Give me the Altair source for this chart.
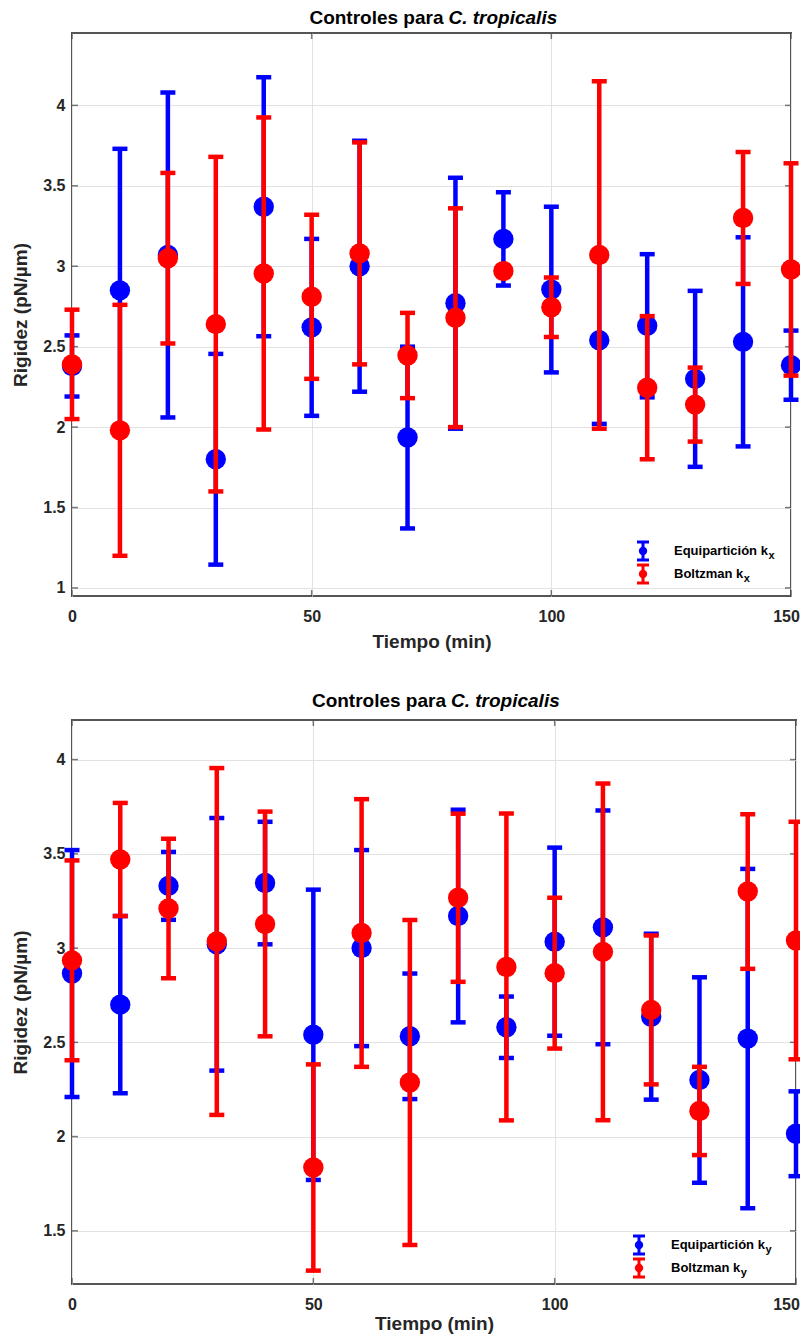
import altair as alt
import pandas as pd

# ---------------- data ----------------
minutes = [0, 10, 20, 30, 40, 50, 60, 70, 80, 90, 100, 110, 120, 130, 140, 150]

kx_equip = [2.38, 2.85, 3.07, 1.80, 3.37, 2.62, 3.00, 1.935, 2.77, 3.17, 2.855, 2.54, 2.63, 2.30, 2.53, 2.385]
kx_equip_err = [0.19, 0.88, 1.01, 0.655, 0.805, 0.55, 0.78, 0.565, 0.78, 0.29, 0.515, 0.52, 0.445, 0.547, 0.65, 0.215]
kx_boltz = [2.39, 1.98, 3.05, 2.64, 2.955, 2.81, 3.08, 2.445, 2.68, 2.97, 2.745, 3.07, 2.245, 2.14, 3.30, 2.98]
kx_boltz_err = [0.34, 0.78, 0.53, 1.04, 0.97, 0.51, 0.69, 0.265, 0.68, 0.02, 0.185, 1.08, 0.445, 0.23, 0.41, 0.66]

ky_equip = [2.865, 2.70, 3.33, 3.02, 3.345, 2.54, 3.00, 2.532, 3.17, 2.58, 3.034, 3.11, 2.636, 2.30, 2.52, 2.015]
ky_equip_err = [0.655, 0.47, 0.18, 0.67, 0.325, 0.77, 0.52, 0.333, 0.564, 0.163, 0.499, 0.62, 0.44, 0.545, 0.90, 0.225]
ky_boltz = [2.935, 3.47, 3.21, 3.035, 3.128, 1.836, 3.08, 2.287, 3.267, 2.90, 2.867, 2.98, 2.672, 2.136, 3.30, 3.04]
ky_boltz_err = [0.53, 0.30, 0.37, 0.92, 0.596, 0.547, 0.71, 0.862, 0.446, 0.814, 0.40, 0.893, 0.395, 0.234, 0.41, 0.63]

x_ticks = [0, 50, 100, 150]
y_ticks_top = [1, 1.5, 2, 2.5, 3, 3.5, 4]
y_ticks_bottom = [1.5, 2, 2.5, 3, 3.5, 4]

series_names = ["Equipartición k", "Boltzman k"]
series_colors = ["#0000ff", "#ff0000"]
title_plain = "Controles para"
title_italic = "C. tropicalis"
x_title = "Tiempo (min)"
y_title = "Rigidez (pN/µm)"

FONT = "Liberation Sans, Arial, Helvetica, sans-serif"
INK = "#262626"

# Arial-bold advance widths (per 1000 em) for placing the subscripts
_W = {"E": 667, "q": 611, "u": 611, "i": 278, "p": 611, "a": 556, "r": 389, "t": 333,
      "c": 556, "ó": 611, "n": 611, " ": 278, "k": 556, "B": 722, "o": 611, "l": 278,
      "z": 500, "m": 889}


def text_width(s, size):
    return sum(_W.get(ch, 556) for ch in s) * size / 1000.0


def one(label):
    return pd.DataFrame({"label": [label]})


def panel(eq, eq_err, bz, bz_err, ydom, yticks, W, H, sub, leg, title_y, xtitle_pad, last_shift):
    xs = alt.Scale(domain=[0, 150], nice=False, zero=False)
    ys = alt.Scale(domain=ydom, nice=False, zero=False)
    xaxis = alt.Axis(values=x_ticks, format="d", title=x_title, grid=True, ticks=False,
                     domain=False, labelFlush=False, labelPadding=12, titlePadding=xtitle_pad,
                     labelOffset={"condition": {"test": "datum.value == 150", "value": last_shift},
                                  "value": 0})
    yaxis = alt.Axis(values=yticks, format="~g", title=y_title, grid=True, ticks=False, domain=False,
                     labelPadding=7, titlePadding=12)
    X = alt.X("t:Q", scale=xs, axis=xaxis, title=x_title)

    layers = []
    ydf = pd.DataFrame({"tv": yticks})
    xdf = pd.DataFrame({"tv": x_ticks})
    Yt = alt.Y("tv:Q", scale=ys, axis=yaxis, title=y_title)
    Xt = alt.X("tv:Q", scale=xs, axis=xaxis, title=x_title)
    for xv in (3, W - 3):
        layers.append(alt.Chart(ydf).mark_tick(orient="horizontal", size=6, thickness=1.5,
                                               color="#404040").encode(y=Yt, x=alt.value(xv)))
    for yv in (3, H - 3):
        layers.append(alt.Chart(xdf).mark_tick(orient="vertical", size=6, thickness=1.5,
                                               color="#404040").encode(x=Xt, y=alt.value(yv)))

    for vals, errs, color in ((eq, eq_err, series_colors[0]), (bz, bz_err, series_colors[1])):
        df = pd.DataFrame({"t": minutes, "v": vals, "e": errs})
        base = alt.Chart(df).transform_calculate(lo="datum.v - datum.e", hi="datum.v + datum.e")
        layers.append(base.mark_rule(color=color, strokeWidth=4.5).encode(
            x=X, y=alt.Y("lo:Q", scale=ys, axis=yaxis, title=y_title), y2="hi:Q"))
        for f in ("lo", "hi"):
            layers.append(base.mark_tick(orient="horizontal", color=color, size=15, thickness=4.5,
                                         opacity=1).encode(
                x=X, y=alt.Y(f + ":Q", scale=ys, axis=yaxis, title=y_title)))
        layers.append(alt.Chart(df).mark_circle(color=color, size=415, opacity=1).encode(
            x=X, y=alt.Y("v:Q", scale=ys, axis=yaxis, title=y_title)))

    # title: plain + italic parts
    cx = W / 2.0
    layers.append(alt.Chart(one(title_plain)).mark_text(
        align="right", baseline="alphabetic", fontSize=19, fontWeight="bold", font=FONT, color="#000000"
    ).encode(text="label:N", x=alt.value(cx + 12), y=alt.value(title_y)))
    layers.append(alt.Chart(one(title_italic)).mark_text(
        align="left", baseline="alphabetic", fontSize=19, fontWeight="bold", fontStyle="italic",
        font=FONT, color="#000000"
    ).encode(text="label:N", x=alt.value(cx + 17), y=alt.value(title_y)))

    # legend
    gx, rows, tx = leg
    for name, color, r in zip(series_names, series_colors, rows):
        d = one(name)
        layers.append(alt.Chart(d).mark_rule(color=color, strokeWidth=3).encode(
            x=alt.value(gx), y=alt.value(r - 9), y2=alt.value(r + 9)))
        for dy in (-9, 9):
            layers.append(alt.Chart(d).mark_rule(color=color, strokeWidth=3).encode(
                x=alt.value(gx - 6), x2=alt.value(gx + 6), y=alt.value(r + dy)))
        layers.append(alt.Chart(d).mark_circle(color=color, size=70, opacity=1).encode(
            x=alt.value(gx), y=alt.value(r)))
        layers.append(alt.Chart(d).mark_text(
            align="left", baseline="alphabetic", fontSize=13, fontWeight="bold", font=FONT, color="#000000"
        ).encode(text="label:N", x=alt.value(tx), y=alt.value(r + 3.5)))
        layers.append(alt.Chart(one(sub)).mark_text(
            align="left", baseline="alphabetic", fontSize=11, fontWeight="bold", font=FONT, color="#000000"
        ).encode(text="label:N", x=alt.value(tx + text_width(name, 13) + 0.5), y=alt.value(r + 8)))

    return alt.layer(*layers).properties(width=W, height=H)


top = panel(kx_equip, kx_equip_err, kx_boltz, kx_boltz_err, [0.95, 4.45], y_ticks_top,
            719, 563, "x", (571, [518, 541], 602), -9, 8, -5)
bottom = panel(ky_equip, ky_equip_err, ky_boltz, ky_boltz_err, [1.218, 4.21], y_ticks_bottom,
               724, 564, "y", (567, [525, 548], 599), -13, 2, -10)

chart = alt.vconcat(top, bottom, spacing=39).properties(
    autosize=alt.AutoSizeParams(type="none"),
    padding={"left": 64, "top": 25, "right": 728, "bottom": 1303}
).configure(
    font=FONT, background="white"
).configure_view(
    stroke="#555555", strokeWidth=2
).configure_axis(
    labelFont=FONT, labelFontSize=16, labelFontWeight="bold", labelColor=INK,
    titleFont=FONT, titleFontSize=19, titleFontWeight="bold", titleColor=INK,
    gridColor="#e2e2e2", gridWidth=1
)

chart.save("out.html", embed_options={"renderer": "svg", "actions": False})
